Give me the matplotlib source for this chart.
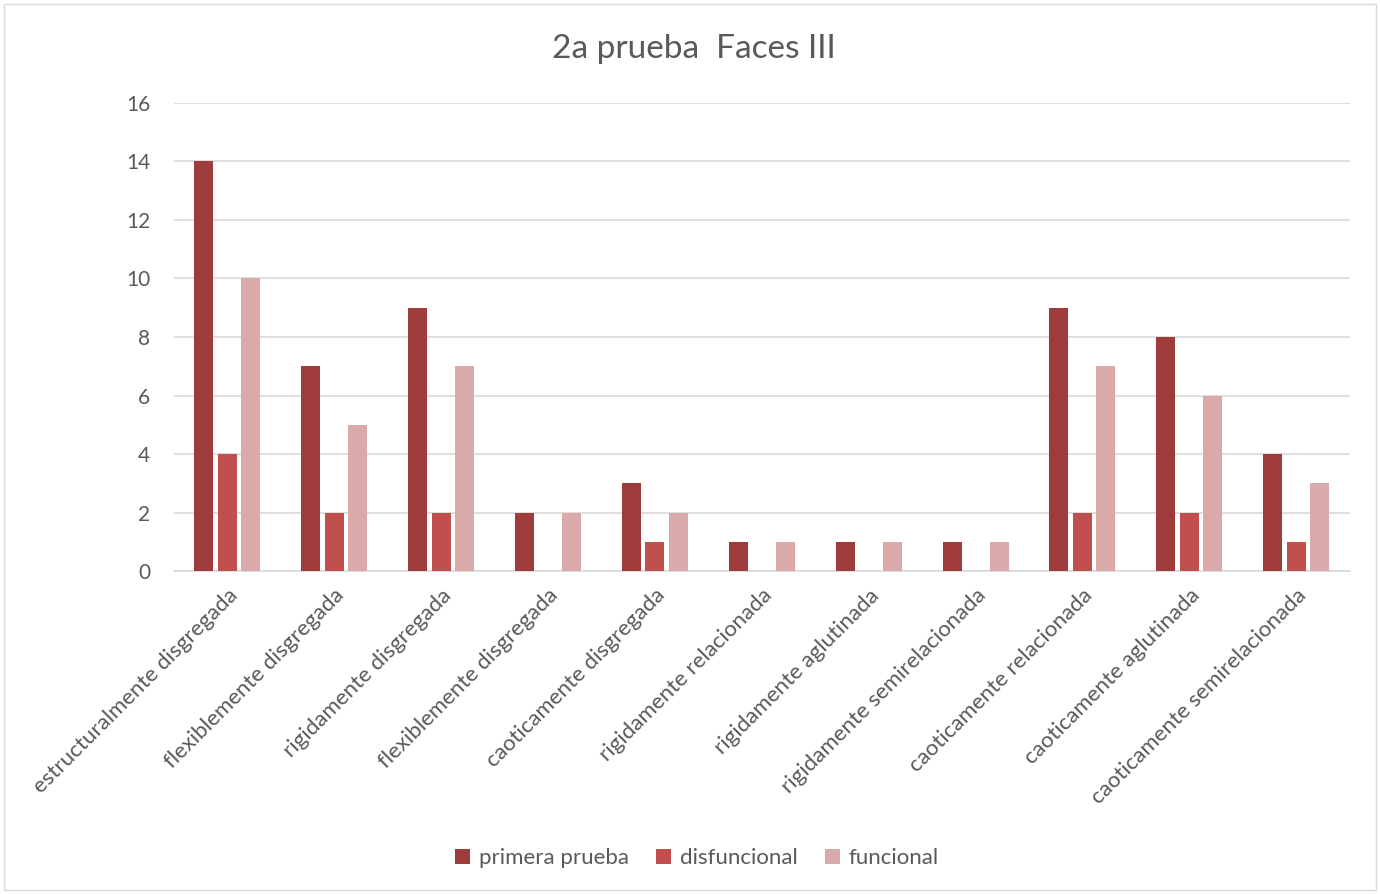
import numpy as np
import matplotlib.pyplot as plt
from matplotlib.patches import Rectangle

categorias = ['estructuralmente disgregada', 'flexiblemente disgregada', 'rigidamente disgregada',
              'flexiblemente disgregada', 'caoticamente disgregada', 'rigidamente relacionada',
              'rigidamente aglutinada', 'rigidamente semirelacionada', 'caoticamente relacionada',
              'caoticamente aglutinada', 'caoticamente semirelacionada']
primera = [14, 7, 9, 2, 3, 1, 1, 1, 9, 8, 4]
disfuncional = [4, 2, 2, 0, 1, 0, 0, 0, 2, 2, 1]
funcional = [10, 5, 7, 2, 2, 1, 1, 1, 7, 6, 3]

series = [('primera prueba', primera, '#9E3B3B'),
          ('disfuncional', disfuncional, '#C0504D'),
          ('funcional', funcional, '#D9AAA9')]

plt.rcParams['font.family'] = ['Lato', 'DejaVu Sans']
gris = '#595959'

fig = plt.figure(figsize=(13.8, 8.94), dpi=100)
ax = fig.add_axes([0.126, 0.361, 0.852, 0.524])

x = np.arange(len(categorias))
w = 0.178
paso = 0.22
for i, (nombre, vals, col) in enumerate(series):
    ax.bar(x + (i - 1) * paso, vals, w, color=col, label=nombre, zorder=3)

ax.set_xlim(-0.5, len(categorias) - 0.5)
ax.set_ylim(0, 16)
ax.set_yticks(np.arange(0, 17, 2))
ax.yaxis.grid(True, color='#D9D9D9', linewidth=1.2, zorder=0)
for s in ['top', 'right', 'left']:
    ax.spines[s].set_visible(False)
ax.spines['bottom'].set_color('#D9D9D9')
ax.spines['bottom'].set_linewidth(1.2)
ax.tick_params(axis='both', length=0, colors=gris)
ax.tick_params(axis='y', labelsize=15, pad=17)
ax.tick_params(axis='x', labelsize=16, pad=10)
ax.set_xticks(x)
ax.set_xticklabels(categorias, rotation=45, ha='right', rotation_mode='anchor')

fig.suptitle('2a prueba  Faces III', x=0.503, y=0.962, fontsize=24, color=gris)

ax.legend(loc='center', bbox_to_anchor=(0.445, -0.613), ncol=3, frameon=False,
          fontsize=16, labelcolor=gris, handlelength=0.65, handleheight=0.65,
          columnspacing=1.25, handletextpad=0.4)

fig.patches.append(Rectangle((0.003, 0.005), 0.994, 0.99, transform=fig.transFigure,
                             fill=False, edgecolor='#D9D9D9', linewidth=1))

fig.savefig('out.png', dpi=100)
